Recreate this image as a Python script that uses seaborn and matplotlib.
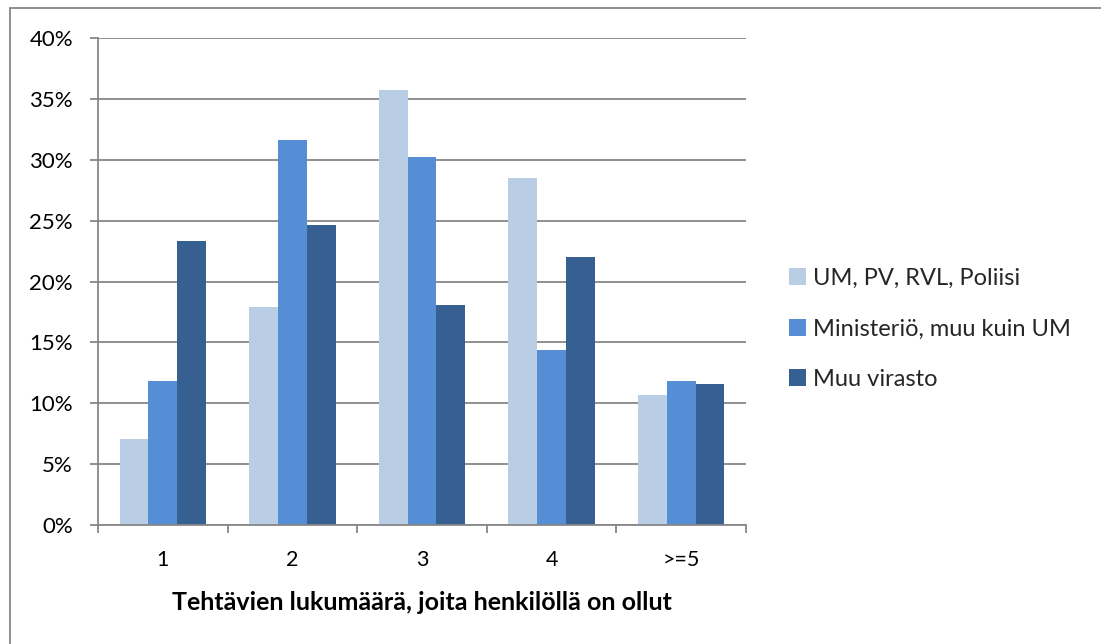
import matplotlib
matplotlib.use("Agg")
import matplotlib.pyplot as plt
from matplotlib.lines import Line2D
from matplotlib.ticker import FixedLocator, PercentFormatter
import seaborn as sns
import pandas as pd

# Share of respondents by number of postings held, per employer group (%)
categories = ["1", "2", "3", "4", ">=5"]
series_names = ["UM, PV, RVL, Poliisi", "Ministeriö, muu kuin UM", "Muu virasto"]
um_pv_rvl_poliisi = [7.1, 17.9, 35.7, 28.5, 10.7]
ministerio_muu = [11.8, 31.6, 30.2, 14.4, 11.8]
muu_virasto = [23.3, 24.6, 18.1, 22.0, 11.6]
y_ticks = [0, 5, 10, 15, 20, 25, 30, 35, 40]
x_label = "Tehtävien lukumäärä, joita henkilöllä on ollut"

colors = ["#B9CDE5", "#558ED5", "#376092"]
grid_color = "#878787"

rows = []
for name, vals in zip(series_names, [um_pv_rvl_poliisi, ministerio_muu, muu_virasto]):
    for cat, v in zip(categories, vals):
        rows.append({"Luokka": cat, "Ryhmä": name, "Osuus": v})
df = pd.DataFrame(rows)

sns.set_theme(style="white")
plt.rcParams["font.family"] = ["Lato", "DejaVu Sans"]

W, H = 1101, 644
fig = plt.figure(figsize=(W / 100, H / 100), dpi=100)
ax = fig.add_axes([98 / W, 1 - 525 / H, (746 - 98) / W, (525 - 38) / H])

sns.barplot(data=df, x="Luokka", y="Osuus", hue="Ryhmä", order=categories,
            hue_order=series_names, palette=colors, saturation=1,
            width=0.667, gap=0, linewidth=0, ax=ax, legend=True)

ax.set_xlim(-0.5, len(categories) - 0.5)
ax.set_ylim(0, 40)
ax.yaxis.set_major_locator(FixedLocator(y_ticks))
ax.yaxis.set_major_formatter(PercentFormatter(decimals=0))
ax.yaxis.grid(True, color=grid_color, linewidth=1.3)
ax.set_axisbelow(True)

for side in ["top", "right"]:
    ax.spines[side].set_visible(False)
for side in ["left", "bottom"]:
    ax.spines[side].set_color(grid_color)
    ax.spines[side].set_linewidth(1.3)

# Category labels centred under groups, tick marks on group boundaries
ax.xaxis.set_minor_locator(FixedLocator([i - 0.5 for i in range(len(categories) + 1)]))
ax.tick_params(axis="x", which="major", length=0, pad=18, labelsize=15.5, labelcolor="black")
ax.tick_params(axis="x", which="minor", length=6, width=1.3, color=grid_color, direction="out", bottom=True)
ax.tick_params(axis="y", which="major", length=6, width=1.3, color=grid_color, left=True,
               pad=12, labelsize=16, labelcolor="black")

ax.set_xlabel(x_label, fontsize=18, fontweight="bold", labelpad=15, color="black")
ax.set_ylabel("")

handles, labels = ax.get_legend_handles_labels()
ax.legend(handles, labels, loc="center left", bbox_to_anchor=(789 / W, 1 - 329 / H),
          bbox_transform=fig.transFigure, frameon=False, fontsize=17,
          handlelength=0.7, handleheight=0.7, handletextpad=0.3,
          labelspacing=1.25, borderaxespad=0, borderpad=0)

# Chart area outline
fig.add_artist(Line2D([10 / W, 1], [1 - 8 / H, 1 - 8 / H], color=grid_color, linewidth=1.3,
                      transform=fig.transFigure))
fig.add_artist(Line2D([10 / W, 10 / W], [0, 1 - 8 / H], color=grid_color, linewidth=1.3,
                      transform=fig.transFigure))

fig.savefig("out.png", dpi=100, facecolor="white")
